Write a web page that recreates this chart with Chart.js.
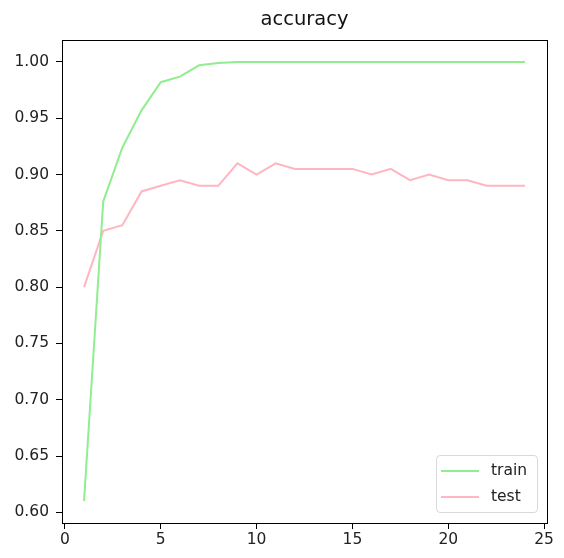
<!DOCTYPE html>
<html>
<head>
<meta charset="utf-8">
<script src="https://cdn.jsdelivr.net/npm/chart.js@4/dist/chart.umd.min.js"></script>
<style>
  html, body { margin: 0; padding: 0; background: #fff; }
  #wrap { position: relative; width: 564px; height: 558px; }
  #legend {
    position: absolute; left: 436px; top: 455px; width: 100px; height: 56px;
    border: 1px solid #d9d9d9; border-radius: 4px; background: rgba(255,255,255,0.8);
    font-family: "DejaVu Sans", sans-serif; font-size: 15.5px; color: #222;
  }
  .item { position: absolute; left: 4px; height: 20px; line-height: 20px; }
  .item span.swatch { position: absolute; left: 0; top: 9px; width: 38px; height: 2px; }
  .item span.lbl { position: absolute; left: 50px; top: -1px; white-space: nowrap; }
</style>
</head>
<body>
<div id="wrap">
  <canvas id="c" width="564" height="558"></canvas>
  <div id="legend">
    <div class="item" style="top:5px"><span class="swatch" style="background:#90ee90"></span><span class="lbl">train</span></div>
    <div class="item" style="top:31px"><span class="swatch" style="background:#ffb6c1"></span><span class="lbl">test</span></div>
  </div>
</div>
<script>
const epochs = [1,2,3,4,5,6,7,8,9,10,11,12,13,14,15,16,17,18,19,20,21,22,23,24];
const trainAcc = [0.61,0.876,0.924,0.957,0.982,0.987,0.997,0.999,1.0,1.0,1.0,1.0,1.0,1.0,1.0,1.0,1.0,1.0,1.0,1.0,1.0,1.0,1.0,1.0];
const testAcc = [0.80,0.85,0.855,0.885,0.89,0.895,0.89,0.89,0.91,0.90,0.91,0.905,0.905,0.905,0.905,0.90,0.905,0.895,0.90,0.895,0.895,0.89,0.89,0.89];
const xTicks = [0,5,10,15,20,25];
const yTicks = [0.60,0.65,0.70,0.75,0.80,0.85,0.90,0.95,1.00];

const font = "DejaVu Sans";

// top and right spines like matplotlib
const frame = {
    id: "frame",
    afterDraw(chart) {
        const a = chart.chartArea, ctx = chart.ctx;
        ctx.save();
        ctx.strokeStyle = "#000";
        ctx.lineWidth = 1;
        ctx.strokeRect(Math.round(a.left) + 0.5, Math.round(a.top) + 0.5,
            Math.round(a.right - a.left), Math.round(a.bottom - a.top));
        ctx.restore();
    }
};

new Chart(document.getElementById("c"), {
    type: "line",
    data: {
        datasets: [
            { label: "train", data: epochs.map((e, i) => ({ x: e, y: trainAcc[i] })),
              borderColor: "#90ee90", borderWidth: 2, pointRadius: 0, tension: 0, fill: false },
            { label: "test", data: epochs.map((e, i) => ({ x: e, y: testAcc[i] })),
              borderColor: "#ffb6c1", borderWidth: 2, pointRadius: 0, tension: 0, fill: false }
        ]
    },
    options: {
        responsive: false,
        animation: false,
        layout: { padding: { left: 0, right: 17, top: 0, bottom: 0 } },
        plugins: {
            legend: { display: false },
            tooltip: { enabled: false },
            title: {
                display: true, text: "accuracy", color: "#111", fullSize: false,
                font: { family: font, size: 19.5, weight: "normal" },
                padding: { top: 8, bottom: 8.6 }
            }
        },
        scales: {
            x: {
                type: "linear", min: -0.15, max: 25.15,
                afterBuildTicks: s => { s.ticks = xTicks.map(v => ({ value: v })); },
                afterFit: s => { s.height = 35; },
                grid: { display: true, drawOnChartArea: false, drawTicks: true, tickLength: 6, color: "#000" },
                border: { display: true, color: "#000" },
                ticks: { color: "#222", font: { family: font, size: 15.5 }, padding: 2, maxRotation: 0,
                         callback: v => String(v) }
            },
            y: {
                type: "linear", min: 0.5905, max: 1.0195,
                afterBuildTicks: s => { s.ticks = yTicks.map(v => ({ value: v })); },
                afterFit: s => { s.width = 62; },
                grid: { display: true, drawOnChartArea: false, drawTicks: true, tickLength: 6, color: "#000" },
                border: { display: true, color: "#000" },
                ticks: { color: "#222", font: { family: font, size: 15.5 }, padding: 7,
                         callback: v => v.toFixed(2) }
            }
        }
    },
    plugins: [frame]
});
</script>
</body>
</html>
